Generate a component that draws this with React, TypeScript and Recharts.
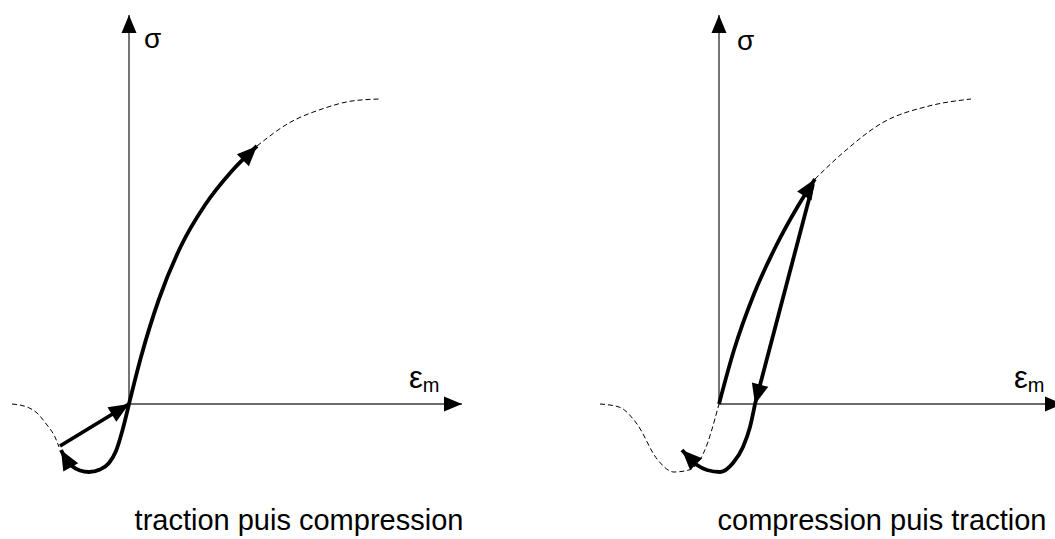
import React from 'react';
import { LineChart, Line, XAxis, YAxis, ReferenceDot } from 'recharts';

type Pt = { x: number; y: number };

// left panel: traction puis compression (strain / stress in arbitrary units)
const axisSigmaA: Pt[] = [{ x: 0, y: 0 }, { x: 0, y: 3.89 }];
const axisEpsA: Pt[] = [{ x: 0, y: 0 }, { x: 3.33, y: 0 }];
const envelopeTopA: Pt[] = [
  { x: 1.28, y: 2.58 }, { x: 1.6, y: 2.81 }, { x: 1.93, y: 2.95 }, { x: 2.23, y: 3.03 }, { x: 2.5, y: 3.05 },
];
const envelopeLowA: Pt[] = [
  { x: -1.17, y: 0 }, { x: -1.02, y: -0.03 }, { x: -0.92, y: -0.09 }, { x: -0.82, y: -0.21 },
  { x: -0.74, y: -0.33 }, { x: -0.7, y: -0.43 },
];
const tractionA: Pt[] = [
  { x: 0, y: 0 }, { x: 0.12, y: 0.47 }, { x: 0.3, y: 1.05 }, { x: 0.52, y: 1.58 },
  { x: 0.76, y: 1.99 }, { x: 1.02, y: 2.32 }, { x: 1.28, y: 2.58 },
];
const compressionA: Pt[] = [
  { x: 0, y: 0 }, { x: -0.07, y: -0.28 }, { x: -0.13, y: -0.47 }, { x: -0.2, y: -0.59 },
  { x: -0.29, y: -0.655 }, { x: -0.4, y: -0.68 }, { x: -0.49, y: -0.665 }, { x: -0.57, y: -0.62 },
  { x: -0.63, y: -0.55 }, { x: -0.68, y: -0.46 },
];
const reloadA: Pt[] = [{ x: -0.69, y: -0.42 }, { x: 0, y: 0 }];

// right panel: compression puis traction
const axisSigmaB: Pt[] = [{ x: 0, y: 0 }, { x: 0, y: 3.89 }];
const axisEpsB: Pt[] = [{ x: 0, y: 0 }, { x: 3.44, y: 0 }];
const envelopeTopB: Pt[] = [
  { x: 0.96, y: 2.25 }, { x: 1.26, y: 2.53 }, { x: 1.63, y: 2.81 }, { x: 2.1, y: 2.98 }, { x: 2.52, y: 3.05 },
];
const envelopeLowB: Pt[] = [
  { x: -1.19, y: 0 }, { x: -1.0, y: -0.03 }, { x: -0.82, y: -0.2 }, { x: -0.62, y: -0.55 },
  { x: -0.45, y: -0.68 }, { x: -0.3, y: -0.66 }, { x: -0.15, y: -0.48 }, { x: 0, y: 0 },
];
const loadB: Pt[] = [
  { x: 0, y: 0 }, { x: 0.15, y: 0.54 }, { x: 0.35, y: 1.1 }, { x: 0.57, y: 1.58 },
  { x: 0.79, y: 1.98 }, { x: 0.96, y: 2.25 },
];
const unloadB: Pt[] = [{ x: 0.94, y: 2.2 }, { x: 0.36, y: 0 }];
const compressionB: Pt[] = [
  { x: 0.36, y: 0 }, { x: 0.31, y: -0.23 }, { x: 0.24, y: -0.43 }, { x: 0.14, y: -0.59 },
  { x: 0.01, y: -0.68 }, { x: -0.12, y: -0.66 }, { x: -0.22, y: -0.61 }, { x: -0.37, y: -0.46 },
];

const PX = 100; // pixels per unit, same on both axes
const W = 590;
const H = 539;
const X_DOMAIN: [number, number] = [-1.29, -1.29 + W / PX];
const Y_DOMAIN: [number, number] = [4.04 - H / PX, 4.04];

const arrowDot = (pts: Pt[], len: number, hw: number) => (props: any) => {
  const { cx, cy, index, points } = props;
  if (index !== pts.length - 1 || index === 0) return <g key={`d-${index}`} />;
  let px = cx - (pts[index].x - pts[index - 1].x) * PX;
  let py = cy + (pts[index].y - pts[index - 1].y) * PX;
  if (points && points[index - 1]) {
    px = points[index - 1].x;
    py = points[index - 1].y;
  }
  const l = Math.hypot(cx - px, cy - py) || 1;
  const ux = (cx - px) / l;
  const uy = (cy - py) / l;
  const bx = cx - ux * len;
  const by = cy - uy * len;
  const d = `M${cx},${cy}L${bx - uy * hw},${by + ux * hw}L${bx + uy * hw},${by - ux * hw}Z`;
  return <path key={`d-${index}`} d={d} fill="#000" stroke="none" />;
};

type Series = { data: Pt[]; kind: 'axis' | 'dash' | 'thick'; arrow?: boolean; straight?: boolean };

const Panel: React.FC<{
  series: Series[];
  sigmaAt: Pt;
  epsAt: Pt;
}> = ({ series, sigmaAt, epsAt }) => (
  <LineChart width={W} height={H} margin={{ top: 0, right: 0, bottom: 0, left: 0 }}>
    <XAxis type="number" dataKey="x" domain={X_DOMAIN} allowDataOverflow hide />
    <YAxis type="number" dataKey="y" domain={Y_DOMAIN} allowDataOverflow hide />
    {series.map((s, i) => (
      <Line
        key={i}
        data={s.data}
        dataKey="y"
        type={s.kind === 'axis' || s.straight ? 'linear' : 'monotone'}
        stroke={s.kind === 'axis' ? '#3a3a3a' : '#000'}
        strokeWidth={s.kind === 'thick' ? 3.8 : s.kind === 'axis' ? 1.4 : 1}
        strokeDasharray={s.kind === 'dash' ? '5 3' : undefined}
        dot={s.arrow ? (s.kind === 'axis' ? arrowDot(s.data, 18, 7.5) : arrowDot(s.data, 20, 8.5)) : false}
        activeDot={false}
        isAnimationActive={false}
      />
    ))}
    <ReferenceDot
      x={sigmaAt.x}
      y={sigmaAt.y}
      r={0}
      shape={(p: any) => (
        <text x={p.cx} y={p.cy} fontSize={28} fontFamily="Liberation Sans, Arial, sans-serif" fill="#000">
          σ
        </text>
      )}
    />
    <ReferenceDot
      x={epsAt.x}
      y={epsAt.y}
      r={0}
      shape={(p: any) => (
        <text x={p.cx} y={p.cy} fontSize={31} fontFamily="Liberation Sans, Arial, sans-serif" fill="#000">
          ε<tspan fontSize={20} dy={4}>m</tspan>
        </text>
      )}
    />
  </LineChart>
);

const seriesA: Series[] = [
  { data: axisSigmaA, kind: 'axis', arrow: true },
  { data: axisEpsA, kind: 'axis', arrow: true },
  { data: envelopeTopA, kind: 'dash' },
  { data: envelopeLowA, kind: 'dash' },
  { data: tractionA, kind: 'thick', arrow: true },
  { data: compressionA, kind: 'thick', arrow: true },
  { data: reloadA, kind: 'thick', arrow: true, straight: true },
];

const seriesB: Series[] = [
  { data: axisSigmaB, kind: 'axis', arrow: true },
  { data: axisEpsB, kind: 'axis', arrow: true },
  { data: envelopeTopB, kind: 'dash' },
  { data: envelopeLowB, kind: 'dash' },
  { data: loadB, kind: 'thick', arrow: true },
  { data: unloadB, kind: 'thick', arrow: true, straight: true },
  { data: compressionB, kind: 'thick', arrow: true },
];

const captionStyle: React.CSSProperties = {
  position: 'absolute',
  top: 506,
  width: 400,
  textAlign: 'center',
  fontFamily: 'Liberation Sans, Arial, sans-serif',
  fontSize: 29,
  lineHeight: '29px',
  color: '#000',
};

export default function App() {
  return (
    <div style={{ position: 'absolute', left: 0, top: 0, width: 1055, height: 539, overflow: 'hidden', background: '#fff' }}>
      <div style={{ position: 'absolute', left: 0, top: 0 }}>
        <Panel series={seriesA} sigmaAt={{ x: 0.15, y: 3.56 }} epsAt={{ x: 2.8, y: 0.16 }} />
      </div>
      <div style={{ position: 'absolute', left: 590, top: 0 }}>
        <Panel series={seriesB} sigmaAt={{ x: 0.18, y: 3.54 }} epsAt={{ x: 2.95, y: 0.16 }} />
      </div>
      <div style={{ ...captionStyle, left: 99 }}>traction puis compression</div>
      <div style={{ ...captionStyle, left: 682 }}>compression puis traction</div>
    </div>
  );
}
